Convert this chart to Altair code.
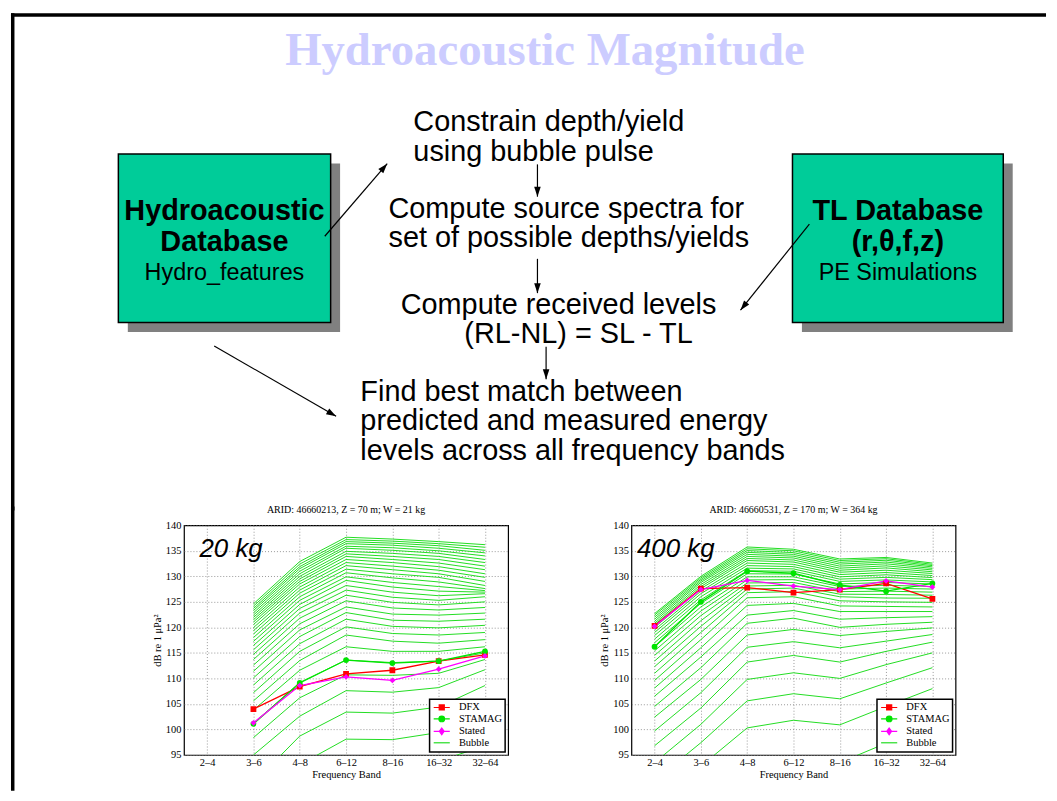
import math
import altair as alt
import pandas as pd

SANS = "Liberation Sans"
SERIF = "Liberation Serif"

# ---------------- slide diagram content ----------------
SLIDE_TITLE = ["Hydroacoustic Magnitude"]
FLOW_TEXT = ["Constrain depth/yield", "using bubble pulse",
             "Compute source spectra for", "set of possible depths/yields",
             "Compute received levels", "(RL-NL) = SL - TL",
             "Find best match between", "predicted and measured energy",
             "levels across all frequency bands"]
BOX_HEAD = ["Hydroacoustic", "Database", "TL Database", "(r,\u03b8,f,z)"]
BOX_SUB = ["Hydro_features", "PE Simulations"]

# layout of the slide (page pixels)
TITLE_POS = [(545, 60)]
FLOW_POS = [(412.7, 126.5), (412.7, 156.5), (387.7, 213.5), (387.7, 243.5),
            (400, 310), (464, 339.5), (359.4, 398), (359.4, 427.5), (359.4, 457.5)]
BOX_HEAD_POS = [(222.7, 215.5), (222.7, 247.5), (900, 215.5), (900, 247.5)]
BOX_SUB_POS = [(222.7, 276.5), (900, 276.5)]
BOX_X0 = [116, 794]
BOX_X1 = [329.5, 1006]
BOX_Y0 = [149.5, 149.5]
BOX_Y1 = [319, 319]
ARROW_FROM = [(323.6, 232.3), (537.5, 160), (537.5, 255), (811, 220), (546.2, 343.5), (212.4, 342.7)]
ARROW_TO = [(386.4, 159.3), (537.5, 192.5), (537.5, 289.5), (741.7, 306.7), (546.2, 376), (335, 413.3)]

# ---------------- plot data ----------------
BANDS = ["2\u20134", "3\u20136", "4\u20138", "6\u201312", "8\u201316", "16\u201332", "32\u201364"]
SERIES = ["DFX", "STAMAG", "Stated"]
SERIES_COLORS = ["#ff0000", "#00e400", "#ff00ff"]
SERIES_SHAPES = ["square", "circle", "diamond"]
LEGEND_ITEMS = ["DFX", "STAMAG", "Stated", "Bubble"]
LEGEND_COLORS = ["#ff0000", "#00e400", "#ff00ff", "#22dd22"]
LEGEND_SYMBOLS = [
    "M-2.7,0H2.7M-0.85,-0.85H0.85V0.85H-0.85Z",
    "M-2.7,0H2.7M0.95,0A0.95,0.95,0,1,1,-0.95,0A0.95,0.95,0,1,1,0.95,0Z",
    "M-2.7,0H2.7M0,-1.1L0.8,0L0,1.1L-0.8,0Z",
    "M-2.7,0H2.7",
]
BUBBLE_COLOR = "#22dd22"

# Left panel: 20 kg
L_TITLE = "ARID: 46660213, Z = 70 m; W = 21 kg"
L_KG = "20 kg"
L_BANDS = BANDS[1:]
L_DFX = [104.0, 108.4, 110.9, 111.6, 113.4, 114.6]
L_STAMAG = [101.1, 109.1, 113.6, 113.0, 113.4, 115.3]
L_STATED = [101.3, 108.6, 110.3, 109.6, 111.8, 114.4]
L_B_3_6 = [124.6, 124.15, 123.7, 123.3, 122.85, 122.4, 121.95, 121.5, 121.05, 120.55, 119.95, 119.35,
           118.7, 118.0, 117.25, 116.45, 115.6, 114.7, 113.7, 112.6, 111.4, 110.1, 108.7, 107.2,
           105.6, 103.8, 101.2, 98.4, 95.0, 89.5, 85.5, 80.4]
L_B_4_8 = [132.9, 132.4, 131.9, 131.5, 131.0, 130.5, 130.0, 129.5, 129.0, 128.5, 127.9, 127.3,
           126.7, 126.0, 125.3, 124.5, 123.7, 122.8, 121.8, 120.7, 119.5, 118.2, 116.8, 115.3,
           113.5, 111.6, 109.2, 106.2, 102.6, 98.7, 93.1, 88.0]
L_B_6_12 = [137.66, 137.2, 136.8, 136.4, 135.9, 135.5, 134.9, 134.4, 133.9, 133.3, 132.7, 132.1,
            131.4, 130.7, 129.9, 129.2, 128.2, 127.3, 126.3, 125.2, 124.0, 122.9, 121.6, 120.1,
            118.5, 116.2, 113.6, 110.7, 107.6, 103.4, 98.1, 93.0]
L_B_8_16 = [137.3, 136.9, 136.5, 136.1, 135.6, 135.1, 134.5, 133.9, 133.3, 132.7, 132.0, 131.3,
            130.5, 129.7, 128.8, 127.9, 126.9, 125.9, 124.9, 123.8, 122.6, 121.4, 120.2, 118.8,
            117.3, 115.3, 113.1, 110.6, 107.3, 103.2, 98.0, 92.8]
L_B_16_32 = [136.8, 136.4, 136.0, 135.5, 135.0, 134.5, 133.9, 133.3, 132.6, 131.9, 131.2, 130.5,
             129.8, 128.9, 128.0, 127.1, 126.2, 125.3, 124.4, 123.4, 122.4, 121.2, 119.9, 118.5,
             116.9, 115.3, 113.4, 111.0, 108.2, 104.4, 99.4, 93.8]
L_B_32_64 = [136.2, 135.7, 135.1, 134.6, 134.0, 133.3, 132.7, 132.0, 131.3, 130.5, 129.8, 129.0,
             128.2, 127.6, 127.2, 126.9, 126.6, 126.0, 125.0, 123.9, 122.8, 121.6, 120.4, 119.0,
             117.6, 116.2, 115.0, 113.7, 111.7, 108.6, 103.5, 96.8]

# Right panel: 400 kg
R_TITLE = "ARID: 46660531, Z = 170 m; W = 364 kg"
R_KG = "400 kg"
R_BANDS = BANDS
R_DFX = [120.3, 127.6, 127.8, 126.8, 127.4, 128.6, 125.6]
R_STAMAG = [116.2, 125.0, 131.0, 130.6, 128.3, 127.1, 128.6]
R_STATED = [120.2, 127.4, 129.2, 128.1, 127.4, 129.1, 127.9]
R_B_2_4 = [122.7, 122.4, 122.0, 121.6, 121.2, 120.8, 120.5, 120.0, 119.5, 119.0, 118.4, 117.7,
           117.0, 116.2, 115.4, 114.5, 113.4, 112.3, 111.0, 109.6, 108.1, 106.5, 104.5, 102.4,
           99.7, 96.8, 93.5, 90.0, 85.5, 80.0]
R_B_3_6 = [130.0, 129.7, 129.4, 129.1, 128.8, 128.4, 128.0, 127.6, 127.1, 126.6, 126.0, 125.4,
           124.7, 124.0, 123.2, 122.3, 121.3, 120.2, 119.0, 117.6, 116.0, 114.2, 112.1, 109.8,
           107.2, 104.2, 101.0, 97.4, 92.8, 87.0]
R_B_4_8 = [135.75, 135.4, 135.05, 134.7, 134.3, 133.9, 133.5, 133.1, 132.6, 132.1, 131.6, 131.1,
           130.5, 129.9, 129.3, 128.7, 128.1, 127.5, 126.8, 125.8, 124.3, 122.4, 120.8, 118.5,
           116.1, 113.2, 109.8, 105.6, 100.3, 93.0]
R_B_6_12 = [135.3, 135.0, 134.65, 134.3, 133.95, 133.6, 133.2, 132.8, 132.35, 131.9, 131.45, 131.0,
            130.45, 129.9, 129.35, 128.8, 128.25, 127.7, 127.0, 126.0, 124.7, 123.3, 121.8, 119.6,
            117.2, 114.5, 111.1, 107.0, 101.8, 94.5]
R_B_8_16 = [133.4, 133.1, 132.75, 132.4, 132.0, 131.6, 131.2, 130.8, 130.35, 129.9, 129.45, 129.0,
            128.5, 128.0, 127.5, 127.0, 126.5, 126.0, 125.2, 124.2, 123.1, 121.6, 120.0, 118.4,
            116.0, 113.2, 110.0, 106.0, 100.9, 93.5]
R_B_16_32 = [133.7, 133.45, 133.15, 132.8, 132.45, 132.05, 131.65, 131.2, 130.75, 130.3, 129.8, 129.3,
             128.8, 128.25, 127.7, 127.1, 126.45, 125.75, 125.0, 124.1, 123.1, 121.9, 120.6, 119.2,
             117.3, 115.3, 112.7, 109.1, 104.5, 97.3]
R_B_32_64 = [132.6, 132.35, 132.1, 131.85, 131.55, 131.25, 130.9, 130.55, 130.15, 129.75, 129.35, 128.9,
             128.5, 128.0, 127.5, 126.9, 126.3, 125.7, 124.9, 124.0, 123.1, 122.1, 121.0, 119.9,
             118.6, 117.1, 115.0, 112.1, 108.0, 102.5]

# ---------------- top canvas (slide diagram) ----------------
PX = alt.Scale(domain=[8, 1049], nice=False, zero=False)
PY = alt.Scale(domain=[8, 508], nice=False, zero=False, reverse=True)


def cx(f):
    return alt.X(f, type="quantitative", scale=PX, axis=None)


def cy(f):
    return alt.Y(f, type="quantitative", scale=PY, axis=None)


border_df = pd.DataFrame({"x0": [8, 9.75], "x1": [1049, 9.75], "y0": [9.75, 8], "y1": [9.75, 508]})
border = alt.Chart(border_df).mark_rule(color="black", strokeWidth=3.5).encode(
    x=cx("x0"), x2=alt.X2("x1"), y=cy("y0"), y2=alt.Y2("y1"))

box_df = pd.DataFrame({"x0": BOX_X0, "x1": BOX_X1, "y0": BOX_Y0, "y1": BOX_Y1})
box_df["sx0"] = box_df["x0"] + 9.5
box_df["sx1"] = box_df["x1"] + 9.5
box_df["sy0"] = box_df["y0"] + 9.5
box_df["sy1"] = box_df["y1"] + 9.5
shadows = alt.Chart(box_df).mark_rect(color="#808080").encode(
    x=cx("sx0"), x2=alt.X2("sx1"), y=cy("sy0"), y2=alt.Y2("sy1"))
boxes = alt.Chart(box_df).mark_rect(fill="#00cc99", stroke="black", strokeWidth=1.5).encode(
    x=cx("x0"), x2=alt.X2("x1"), y=cy("y0"), y2=alt.Y2("y1"))


def text_df(texts, pos):
    return pd.DataFrame({"t": texts, "x": [p[0] for p in pos], "y": [p[1] for p in pos]})


title_t = alt.Chart(text_df(SLIDE_TITLE, TITLE_POS)).mark_text(
    font=SERIF, fontSize=47, fontWeight="bold", color="#ccccff", align="center", baseline="alphabetic"
).encode(x=cx("x"), y=cy("y"), text="t:N")
flow_t = alt.Chart(text_df(FLOW_TEXT, FLOW_POS)).mark_text(
    font=SANS, fontSize=29, color="black", align="left", baseline="alphabetic"
).encode(x=cx("x"), y=cy("y"), text="t:N")
head_t = alt.Chart(text_df(BOX_HEAD, BOX_HEAD_POS)).mark_text(
    font=SANS, fontSize=29, fontWeight="bold", color="black", align="center", baseline="alphabetic"
).encode(x=cx("x"), y=cy("y"), text="t:N")
sub_t = alt.Chart(text_df(BOX_SUB, BOX_SUB_POS)).mark_text(
    font=SANS, fontSize=23.5, color="black", align="center", baseline="alphabetic"
).encode(x=cx("x"), y=cy("y"), text="t:N")

arr_df = pd.DataFrame({
    "x0": [a[0] for a in ARROW_FROM], "y0": [a[1] for a in ARROW_FROM],
    "x1": [b[0] for b in ARROW_TO], "y1": [b[1] for b in ARROW_TO],
})
arr_df["ang"] = [
    (math.degrees(math.atan2(b[0] - a[0], -(b[1] - a[1]))) + 360) % 360
    for a, b in zip(ARROW_FROM, ARROW_TO)
]
shafts = alt.Chart(arr_df).mark_rule(color="black", strokeWidth=1.2).encode(
    x=cx("x0"), x2=alt.X2("x1"), y=cy("y0"), y2=alt.Y2("y1"))
heads = alt.Chart(arr_df).mark_point(
    shape="M0,0L-1.1,3.3L1.1,3.3Z", filled=True, color="black", size=36, opacity=1
).encode(x=cx("x1"), y=cy("y1"), angle=alt.Angle("ang:Q", scale=None))

canvas = alt.layer(border, shadows, boxes, title_t, flow_t, head_t, sub_t, shafts, heads).properties(
    width=1041, height=500)

# ---------------- plot panels ----------------
x_axis = alt.Axis(title="Frequency Band", labelAngle=0, labelFont=SERIF, labelFontSize=10.5,
                  labelColor="black", titleFont=SERIF, titleFontSize=10.5, titleFontWeight="normal",
                  titleColor="black", labelPadding=3, titlePadding=1, ticks=False, domain=False,
                  grid=True, gridDash=[1, 2], gridColor="#808080", gridWidth=0.8)
y_axis = alt.Axis(title="dB re 1 \u03bcPa\u00b2", values=list(range(95, 141, 5)), labelFont=SERIF,
                  labelFontSize=10.5, labelColor="black", titleFont=SERIF, titleFontSize=10.5,
                  titleFontWeight="normal", titleColor="black", labelPadding=3, titlePadding=3,
                  ticks=False, domain=False, grid=True, gridDash=[1, 2], gridColor="#808080",
                  gridWidth=0.8)

legend = alt.Legend(title=None, orient="bottom-right", offset=3, fillColor="white",
                    strokeColor="black", padding=3, labelFont=SERIF, labelFontSize=10.5,
                    labelColor="black", symbolSize=36, symbolStrokeWidth=1.2, symbolOpacity=1,
                    symbolOffset=4, labelOffset=12, rowPadding=0.5, cornerRadius=0)


def panel(title, bands, cols, dfx, stamag, stated, kg, kg_dx):
    bub = pd.DataFrame([
        {"band": b, "bi": BANDS.index(b), "curve": i, "db": v}
        for b, col in zip(bands, cols) for i, v in enumerate(col)
    ])
    meas = pd.DataFrame([
        {"band": b, "bi": BANDS.index(b), "series": s, "db": v}
        for s, vals in zip(SERIES, (dfx, stamag, stated)) for b, v in zip(bands, vals)
    ])
    xenc = alt.X("band:O", scale=alt.Scale(type="point", domain=BANDS, padding=0.5), axis=x_axis)
    yenc = alt.Y("db:Q", scale=alt.Scale(domain=[95, 140], nice=False, zero=False), axis=y_axis)
    color = alt.Color("series:N", scale=alt.Scale(domain=SERIES, range=SERIES_COLORS), legend=None)

    bub_l = alt.Chart(bub).mark_line(clip=True, strokeWidth=1, color=BUBBLE_COLOR).encode(
        x=xenc, y=yenc, detail="curve:N", order="bi:Q")
    meas_l = alt.Chart(meas).mark_line(clip=True, strokeWidth=1.3).encode(
        x=xenc, y=yenc, color=color, detail="series:N", order="bi:Q")
    meas_p = alt.Chart(meas).mark_point(filled=True, size=34, opacity=1, clip=True).encode(
        x=xenc, y=yenc, color=color,
        shape=alt.Shape("series:N", scale=alt.Scale(domain=SERIES, range=SERIES_SHAPES), legend=None))
    kg_df = pd.DataFrame({"band": [BANDS[0]], "db": [133.8], "t": [kg]})
    kg_t = alt.Chart(kg_df).mark_text(font=SANS, fontSize=26, fontStyle="italic", align="left",
                                      baseline="alphabetic", dx=kg_dx, color="black").encode(
        x=xenc, y=yenc, text="t:N")
    leg_df = pd.DataFrame({"series": LEGEND_ITEMS})
    leg_l = alt.Chart(leg_df).mark_point(filled=True, opacity=0).encode(
        fill=alt.Fill("series:N", scale=alt.Scale(domain=LEGEND_ITEMS, range=LEGEND_COLORS), legend=legend),
        stroke=alt.Stroke("series:N", scale=alt.Scale(domain=LEGEND_ITEMS, range=LEGEND_COLORS), legend=legend),
        shape=alt.Shape("series:N", scale=alt.Scale(domain=LEGEND_ITEMS, range=LEGEND_SYMBOLS), legend=legend),
    )
    return alt.layer(bub_l, meas_l, meas_p, kg_t, leg_l).resolve_scale(
        shape="independent", fill="independent", stroke="independent"
    ).properties(
        width=326, height=231,
        title=alt.Title(title, font=SERIF, fontSize=10, fontWeight="normal", color="black", offset=5),
        view=alt.ViewBackground(stroke="black", strokeWidth=1.2),
    )


left = panel(L_TITLE, L_BANDS, [L_B_3_6, L_B_4_8, L_B_6_12, L_B_8_16, L_B_16_32, L_B_32_64],
             L_DFX, L_STAMAG, L_STATED, L_KG, -7.7)
right = panel(R_TITLE, R_BANDS, [R_B_2_4, R_B_3_6, R_B_4_8, R_B_6_12, R_B_8_16, R_B_16_32, R_B_32_64],
              R_DFX, R_STAMAG, R_STATED, R_KG, -17.7)

# left spacer carries the continuation of the slide frame
frame_df = pd.DataFrame({"x": [9.75], "y0": [504], "y1": [790]})
spacer_left = alt.Chart(frame_df).mark_rule(color="black", strokeWidth=3.5).encode(
    x=alt.X("x:Q", scale=alt.Scale(domain=[8, 182], nice=False, zero=False), axis=None),
    y=alt.Y("y0:Q", scale=alt.Scale(domain=[523, 754], nice=False, zero=False, reverse=True), axis=None),
    y2=alt.Y2("y1"),
).properties(width=174, height=231)
gap = alt.Chart(pd.DataFrame({"v": [0]})).mark_point(opacity=0).properties(width=124, height=231)

bottom = alt.hconcat(spacer_left, left, gap, right, spacing=0, bounds="flush")
chart = alt.vconcat(canvas, bottom, spacing=15, bounds="flush").properties(
    padding=0
).configure_view(stroke="transparent").configure_legend(strokeWidth=1.5)

chart.save("out.html", embed_options={"renderer": "svg", "actions": False})
